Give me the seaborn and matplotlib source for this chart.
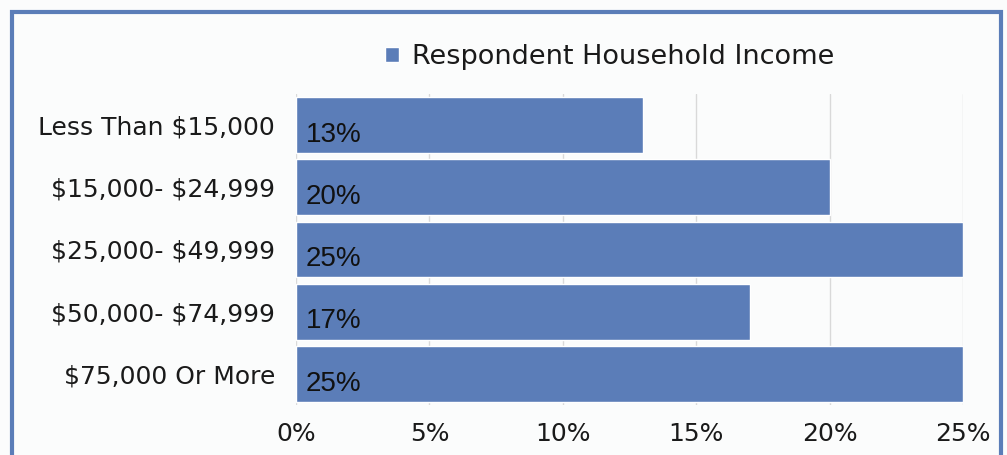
import matplotlib
matplotlib.use('Agg')
import matplotlib.pyplot as plt
import seaborn as sns
from matplotlib.patches import Rectangle
from matplotlib.ticker import FuncFormatter

# Данные
categories = ['Less Than $15,000', '$15,000- $24,999', '$25,000- $49,999',
              '$50,000- $74,999', '$75,000 Or More']
shares = [13, 20, 25, 17, 25]
series_name = 'Respondent Household Income'

bar_color = '#5B7DB8'
bg = '#FBFCFC'

sns.set_style('white')
plt.rcParams['font.family'] = ['DejaVu Sans']
plt.rcParams['text.parse_math'] = False  # знаки $ как обычный текст

fig = plt.figure(figsize=(10.07, 4.55), dpi=100, facecolor=bg)
ax = fig.add_axes([296 / 1007, 1 - 405 / 455, 667 / 1007, 311 / 455])
ax.set_facecolor(bg)

sns.barplot(x=shares, y=categories, orient='h', color=bar_color, saturation=1,
            width=0.9, label=series_name, ax=ax, zorder=2)

ax.set_xlim(0, 25)
ax.set_xticks(range(0, 26, 5))
ax.xaxis.set_major_formatter(FuncFormatter(lambda v, p: f'{v:.0f}%'))
ax.grid(axis='x', color='#D9D9D9', linewidth=1, zorder=0)
ax.set_axisbelow(True)
for s in ax.spines.values():
    s.set_visible(False)
ax.tick_params(axis='both', length=0, labelsize=18, colors='#1a1a1a')
ax.tick_params(axis='y', pad=15)
ax.tick_params(axis='x', pad=12)
ax.set_xlabel('')
ax.set_ylabel('')

# Подписи значений в начале столбцов
for p, v in zip(ax.patches, shares):
    ax.annotate(f'{v}%', (0, p.get_y() + p.get_height() / 2), xytext=(7, -7),
                textcoords='offset points', va='center', ha='left',
                fontsize=20, family='Liberation Sans', color='#111111')

leg = ax.legend(loc='center', bbox_to_anchor=(610 / 1007, 1 - 57 / 455),
                bbox_transform=fig.transFigure, frameon=False,
                handlelength=0.5, handleheight=0.5, handletextpad=0.5,
                fontsize=19.5)
for t in leg.get_texts():
    t.set_color('#1a1a1a')

# Рамка вокруг рисунка
fig.patches.append(Rectangle((12 / 1007, -0.1), 989 / 1007, 1 - 12 / 455 + 0.1,
                             transform=fig.transFigure, fill=False,
                             edgecolor=bar_color, linewidth=3))

fig.savefig('out.png', dpi=100, facecolor=bg)
